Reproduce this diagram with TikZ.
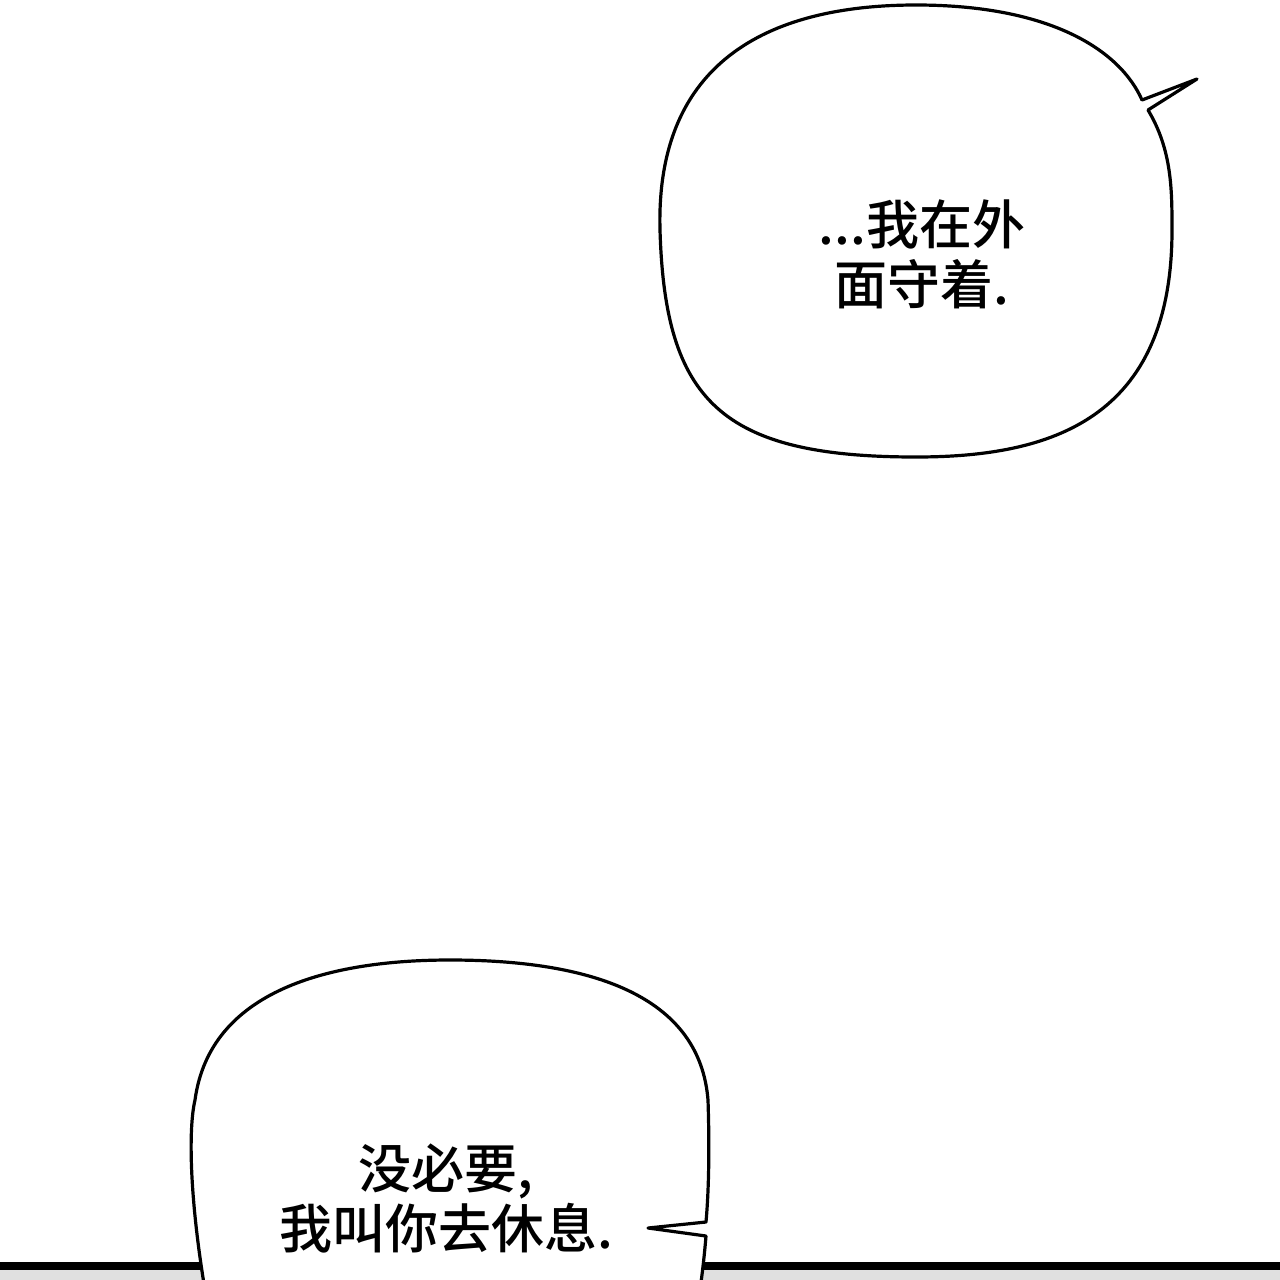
\documentclass[tikz,border=0pt]{standalone}
\usepackage{fontspec}
\newfontfamily\cjk{Noto Sans CJK SC Medium}
\begin{document}
\begin{tikzpicture}[x=0.5pt,y=-0.5pt,line width=1.6pt,
  bub/.style={draw=black,fill=white,line join=round},
  txt/.style={font=\cjk\fontsize{26.5}{30}\selectfont,align=center}]
\useasboundingbox (0,0) rectangle (1280,1280);
\fill[white] (0,0) rectangle (1280,1280);
\fill[black!12!white] (0,1270) rectangle (1280,1280);
\fill[black] (0,1262) rectangle (1280,1270);
\draw[bub] (660,230) .. controls (655,40) and (800,5) .. (916,5)
  .. controls (1050,5) and (1120,50) .. (1142,100) -- (1197,79) -- (1148,110)
  .. controls (1172,150) and (1172,190) .. (1172,230)
  .. controls (1172,420) and (1050,457) .. (916,457)
  .. controls (720,457) and (665,400) .. (660,230) -- cycle;
\path[bub] (205,1290) .. controls (190,1200) and (188,1130) .. (195,1100)
  .. controls (210,990) and (330,960) .. (450,960)
  .. controls (600,960) and (700,1000) .. (708,1100)
  .. controls (710,1160) and (708,1200) .. (706,1222) -- (648,1228) -- (706,1236)
  .. controls (704,1260) and (702,1275) .. (700,1290);
\node[txt] (t1) at (922,254) {...我在外\\面守着.};
\node[txt] (t2) at (446,1198) {没必要,\\我叫你去休息.};
\end{tikzpicture}
\end{document}
